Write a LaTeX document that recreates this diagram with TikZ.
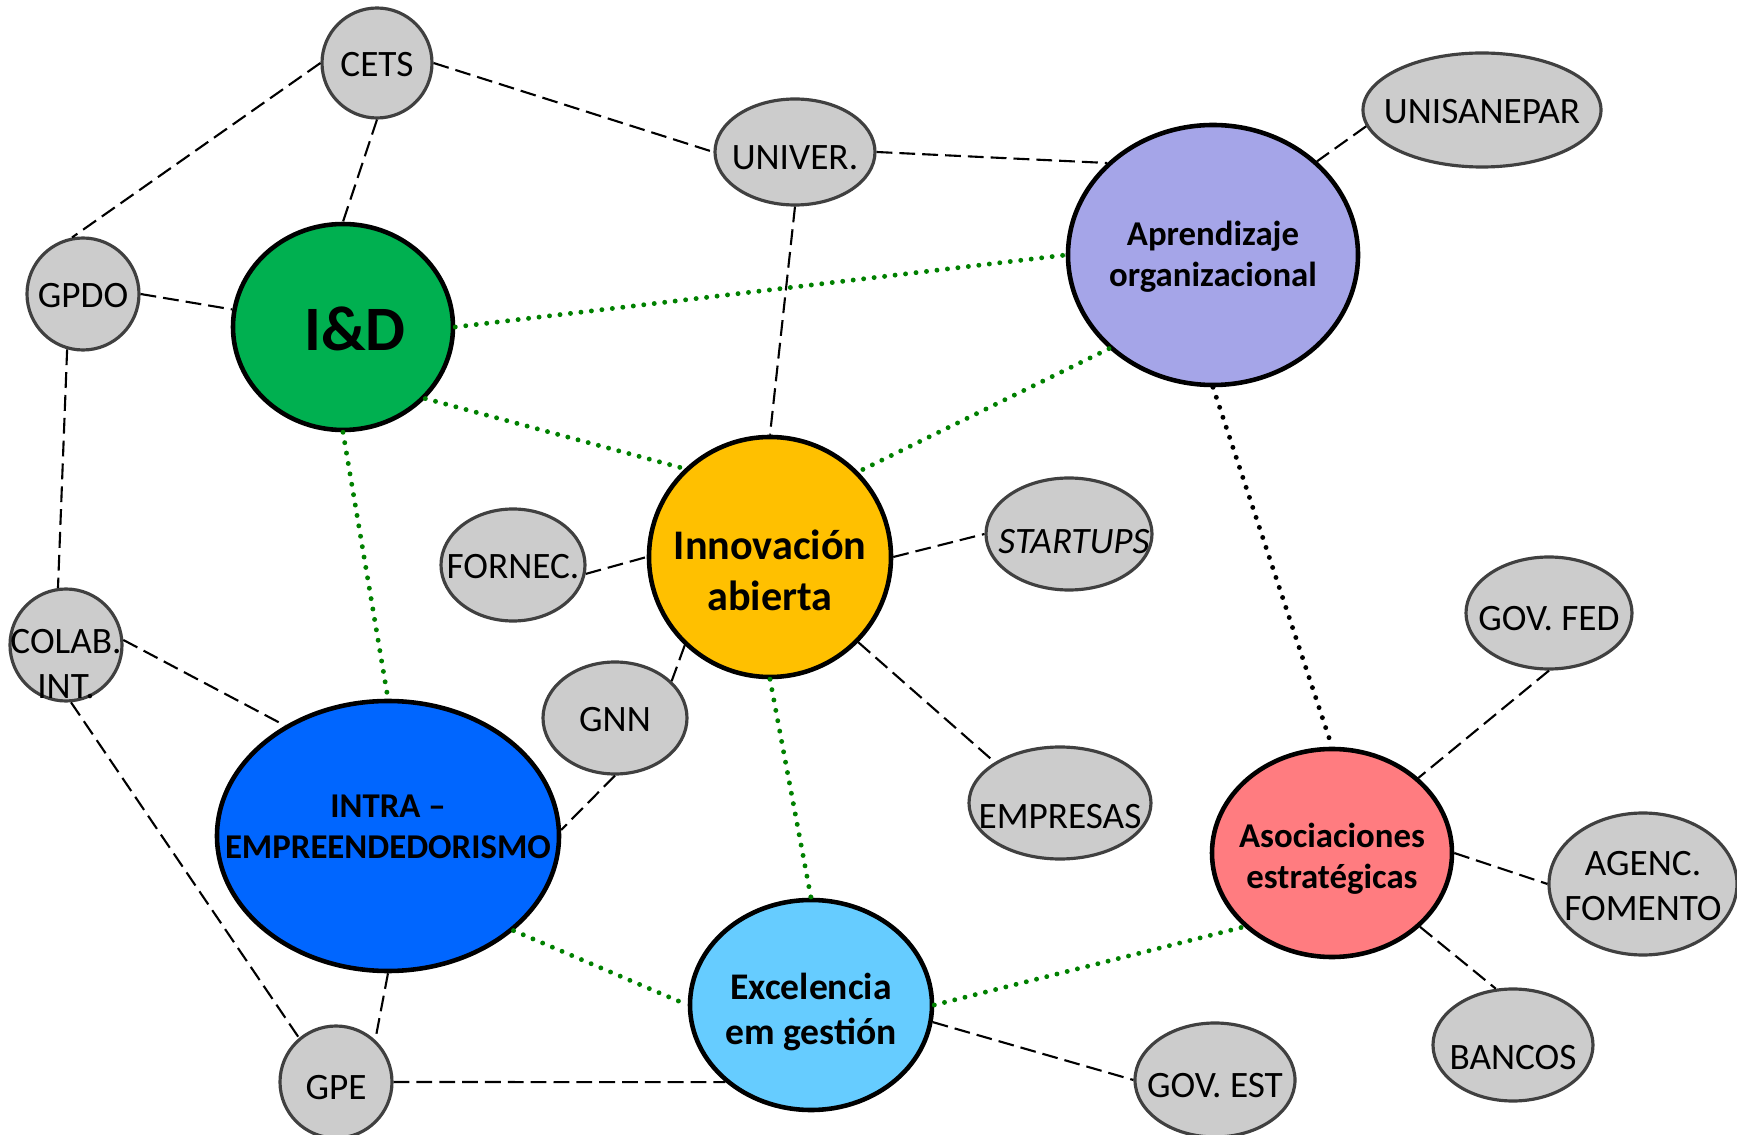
\documentclass[tikz,border=0pt]{standalone}
\usepackage{fontspec}
\setmainfont{Carlito}
\usetikzlibrary{
  shapes.geometric,
  calc}
\definecolor{partnercolor}{RGB}{204,204,204}
\definecolor{partnerline}{RGB}{64,64,64}
\definecolor{idcolor}{RGB}{0,176,80}
\definecolor{innovcolor}{RGB}{255,192,0}
\definecolor{learncolor}{RGB}{165,165,232}
\definecolor{intracolor}{RGB}{0,102,255}
\definecolor{excelcolor}{RGB}{102,204,255}
\definecolor{assoccolor}{RGB}{255,124,128}
\definecolor{tiecolor}{RGB}{0,128,0}
\tikzset{
  %% partner : an outside actor of the ecosystem
  partner/.style={
    ellipse,
    draw=partnerline,
    fill=partnercolor,
    line width=0.9pt,
    inner sep=0pt
  },
  %% pillar : one of the six pillars
  pillar/.style={
    ellipse,
    draw=black,
    line width=1.3pt,
    inner sep=0pt
  },
  %% pillartext : text inside a pillar
  pillartext/.style={
    font=\bfseries\fontsize{9.9}{11.7}\selectfont
  },
  %% link : dashed line to an actor
  link/.style={
    black,
    line width=0.6pt,
    dash pattern=on 4.5pt off 2pt
  },
  %% tie : dotted line between two pillars
  tie/.style={
    tiecolor,
    line width=1.4pt,
    line cap=round,
    dash pattern=on 0pt off 3pt
  }
}

\begin{document}
\begin{tikzpicture}
  [x=1cm,
  y=-1cm,
  every label/.style={
    align=center,
    inner sep=0pt,
    yshift=-0.02cm,
    font=\fontsize{10.6}{12.6}\selectfont}]

  \useasboundingbox (0,0) rectangle (17.37,11.35);

  %% Grid for orientation. Comment out for final figure!
  % \draw[help lines, green](0, 0) grid (17, 11);

  %%% Pillars
  \node (id) [pillar, fill=idcolor, minimum width=2.20cm, minimum height=2.06cm,
    label={[font=\bfseries\fontsize{18}{20}\selectfont, xshift=0.12cm]center:I\&D}]
    at (3.43, 3.27) {};

  \node (learn) [pillar, fill=learncolor, minimum width=2.90cm, minimum height=2.60cm,
    label={[pillartext]center:Aprendizaje\\organizacional}]
    at (12.13, 2.55) {};

  \node (innov) [pillar, fill=innovcolor, minimum width=2.42cm, minimum height=2.40cm,
    label={[font=\bfseries\fontsize{12}{14.5}\selectfont, yshift=-0.11cm]center:Innovación\\abierta}]
    at (7.70, 5.57) {};

  \node (intra) [pillar, fill=intracolor, minimum width=3.42cm, minimum height=2.70cm,
    label={[pillartext, yshift=0.11cm]center:INTRA –\\EMPREENDEDORISMO}]
    at (3.88, 8.36) {};

  \node (assoc) [pillar, fill=assoccolor, minimum width=2.40cm, minimum height=2.08cm,
    label={[pillartext, yshift=-0.04cm]center:Asociaciones\\estratégicas}]
    at (13.32, 8.53) {};

  \node (excel) [pillar, fill=excelcolor, minimum width=2.42cm, minimum height=2.10cm,
    label={[font=\bfseries\fontsize{10.7}{12.6}\selectfont, yshift=-0.05cm]center:Excelencia\\em gestión}]
    at (8.11, 10.05) {};

  %%% Actors
  \node (cets) [partner, minimum width=1.10cm, minimum height=1.10cm,
    label={center:CETS}] at (3.77, 0.63) {};
  \node (univer) [partner, minimum width=1.60cm, minimum height=1.06cm,
    label={[yshift=-0.04cm]center:UNIVER.}] at (7.95, 1.52) {};
  \node (unisanepar) [partner, minimum width=2.38cm, minimum height=1.14cm,
    label={center:UNISANEPAR}] at (14.82, 1.10) {};
  \node (gpdo) [partner, minimum width=1.12cm, minimum height=1.12cm,
    label={center:GPDO}] at (0.83, 2.94) {};
  \node (colab) [partner, minimum width=1.12cm, minimum height=1.12cm,
    label={[yshift=-0.17cm]center:COLAB.\\INT.}] at (0.66, 6.45) {};
  \node (fornec) [partner, minimum width=1.44cm, minimum height=1.12cm,
    label={center:FORNEC.}] at (5.13, 5.65) {};
  \node (startups) [partner, minimum width=1.66cm, minimum height=1.12cm,
    label={[font=\itshape\fontsize{10.6}{12.6}\selectfont, xshift=0.05cm, yshift=-0.06cm]center:STARTUPS}]
    at (10.69, 5.34) {};
  \node (gnn) [partner, minimum width=1.44cm, minimum height=1.12cm,
    label={center:GNN}] at (6.15, 7.18) {};
  \node (empresas) [partner, minimum width=1.82cm, minimum height=1.12cm,
    label={[yshift=-0.12cm]center:EMPRESAS}] at (10.60, 8.03) {};
  \node (govfed) [partner, minimum width=1.66cm, minimum height=1.12cm,
    label={[yshift=-0.04cm]center:GOV. FED}] at (15.49, 6.13) {};
  \node (agenc) [partner, minimum width=1.88cm, minimum height=1.42cm,
    label={center:AGENC.\\FOMENTO}] at (16.43, 8.84) {};
  \node (bancos) [partner, minimum width=1.60cm, minimum height=1.12cm,
    label={[yshift=-0.11cm]center:BANCOS}] at (15.13, 10.45) {};
  \node (govest) [partner, minimum width=1.60cm, minimum height=1.14cm,
    label={[yshift=-0.04cm]center:GOV. EST}] at (12.15, 10.80) {};
  \node (gpe) [partner, minimum width=1.12cm, minimum height=1.12cm,
    label={[yshift=-0.04cm]center:GPE}] at (3.36, 10.82) {};

  %% Links to the actors
  \draw [link] (cets.west) -- (gpdo.101);
  \draw [link] (cets.south) -- (id.north);
  \draw [link] (cets.east) -- (univer.west);
  \draw [link] (univer.east) -- (learn.139);
  \draw [link] (univer.south) -- (innov.north);
  \draw [link] (unisanepar.188) -- (learn.42);
  \draw [link] (gpdo.east) -- (id.171);
  \draw [link] (gpdo.254) -- (colab.98);
  \draw [link] (colab.5) -- (intra.133);
  \draw [link] (colab.275) -- (gpe.130);
  \draw [link] (fornec.353) -- (innov.west);
  \draw [link] (innov.east) -- (startups.west);
  \draw [link] (innov.226) -- (gnn.33);
  \draw [link] (innov.316) -- (empresas.148);
  \draw [link] (gnn.south) -- (intra.2);
  \draw [link] (intra.south) -- (gpe.47);
  \draw [link] (gpe.east) -- (excel.222);
  \draw [link] (excel.352) -- (govest.west);
  \draw [link] (govfed.south) -- (assoc.41);
  \draw [link] (assoc.east) -- (agenc.west);
  \draw [link] (assoc.320) -- (bancos.107);

  %% Ties between the pillars
  \draw [tie] (id.east) -- (learn.west);
  \draw [tie] (id.319) -- (innov.134);
  \draw [tie] (id.south) -- (intra.north);
  \draw [tie] (learn.222) -- (innov.44);
  \draw [tie] (innov.south) -- (excel.north);
  \draw [tie] (intra.323) -- (excel.west);
  \draw [tie] (excel.east) -- (assoc.220);
  \draw [tie, black] (learn.south) -- (assoc.north);

\end{tikzpicture}
\end{document}
